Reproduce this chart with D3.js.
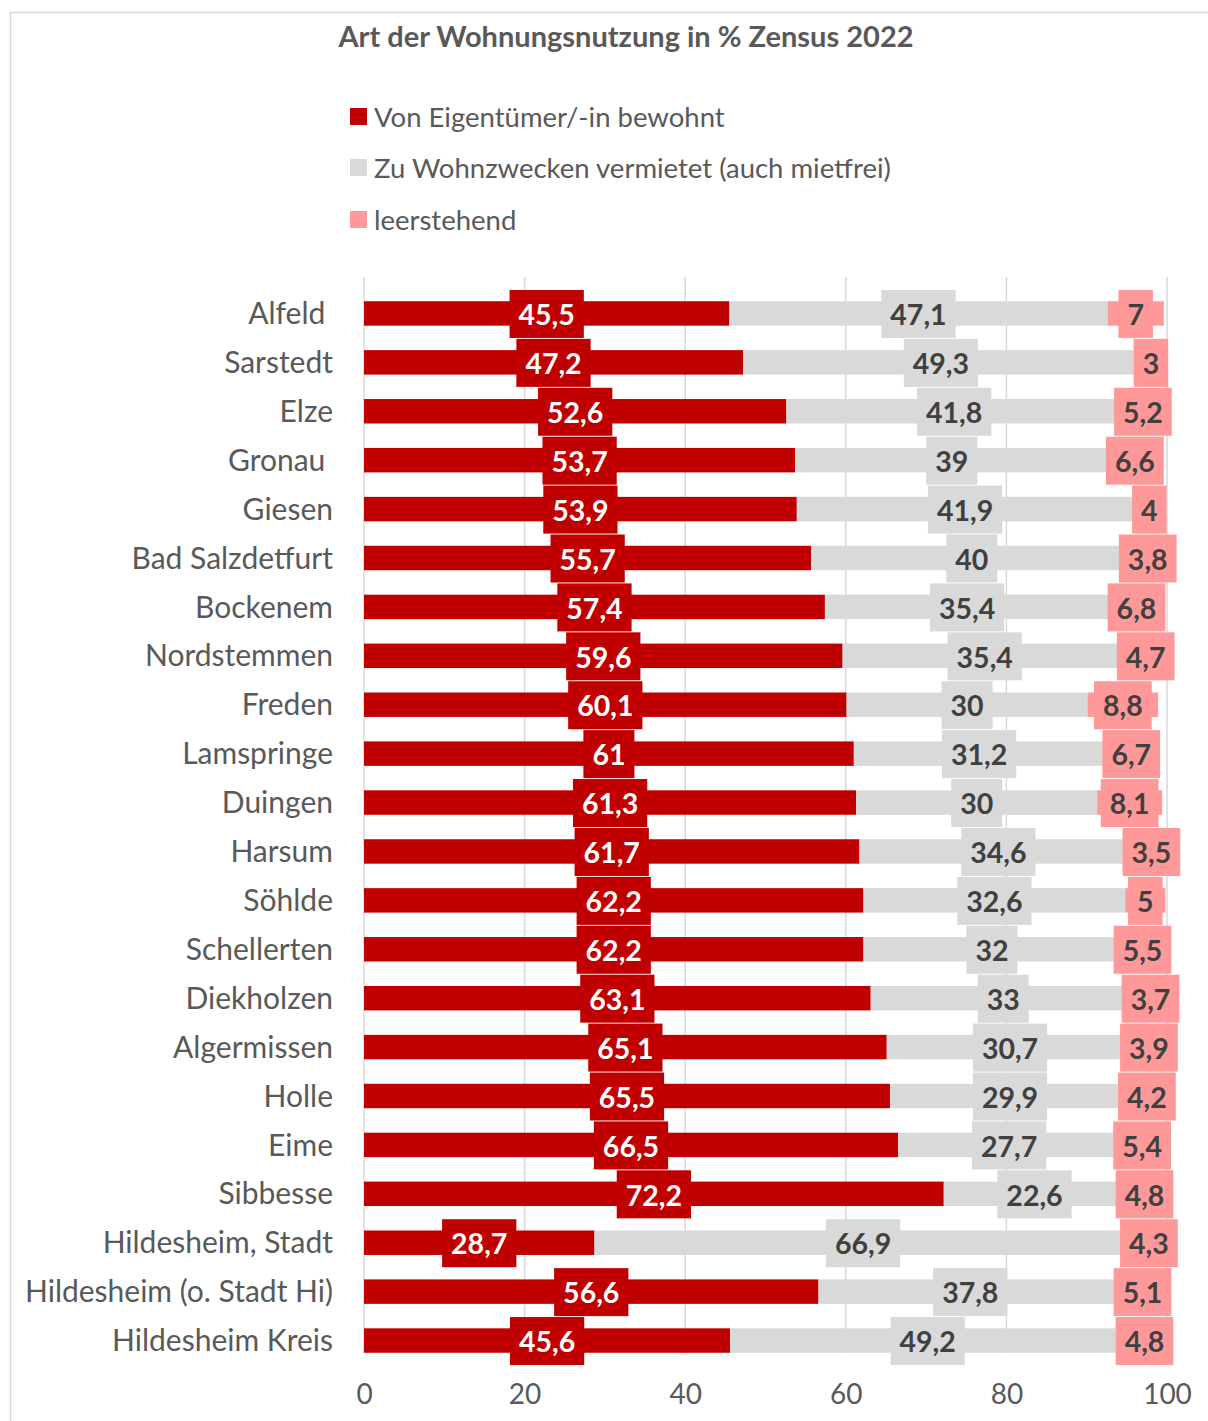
<!DOCTYPE html>
<html><head><meta charset="utf-8">
<script src="https://cdn.jsdelivr.net/npm/d3@7"></script>
<style>
html,body{margin:0;padding:0;background:#fff;}
svg text{font-family:Lato,"Open Sans",sans-serif;white-space:pre;}
</style></head>
<body>
<script>
const categories = ["Alfeld ","Sarstedt","Elze","Gronau ","Giesen","Bad Salzdetfurt","Bockenem","Nordstemmen","Freden","Lamspringe","Duingen","Harsum","Söhlde","Schellerten","Diekholzen","Algermissen","Holle","Eime","Sibbesse","Hildesheim, Stadt","Hildesheim (o. Stadt Hi)","Hildesheim Kreis"];
const owner  = [45.5,47.2,52.6,53.7,53.9,55.7,57.4,59.6,60.1,61,61.3,61.7,62.2,62.2,63.1,65.1,65.5,66.5,72.2,28.7,56.6,45.6];
const rented = [47.1,49.3,41.8,39,41.9,40,35.4,35.4,30,31.2,30,34.6,32.6,32,33,30.7,29.9,27.7,22.6,66.9,37.8,49.2];
const vacant = [7,3,5.2,6.6,4,3.8,6.8,4.7,8.8,6.7,8.1,3.5,5,5.5,3.7,3.9,4.2,5.4,4.8,4.3,5.1,4.8];
const seriesNames = ["Von Eigentümer/-in bewohnt","Zu Wohnzwecken vermietet (auch mietfrei)","leerstehend"];
const seriesColors = ["#C00000","#D9D9D9","#FF9999"];
const labelColors = ["#FFFFFF","#404040","#404040"];
const xTicks = [0,20,40,60,80,100];
const title = "Art der Wohnungsnutzung in % Zensus 2022";

const W = 1208, H = 1421;
const svg = d3.select("body").append("svg").attr("width",W).attr("height",H);

// outer chart border
svg.append("path").attr("d",`M10.5,${H} L10.5,12.5 L${W},12.5`).attr("fill","none").attr("stroke","#D9D9D9").attr("stroke-width",1.5);

const x = d3.scaleLinear().domain([0,100]).range([364,1167]);
const y = d3.scaleBand().domain(categories).range([289,1365]).paddingInner(0.5).paddingOuter(0.25);
const plotTop = 277, plotBottom = 1353;

// title
svg.append("text").attr("x",626).attr("y",47).attr("text-anchor","middle")
  .attr("font-size",29).attr("font-weight","bold").attr("fill","#595959").text(title);

// legend
const legY = [117,168,220];
seriesNames.forEach((n,i)=>{
  svg.append("rect").attr("x",350).attr("y",legY[i]-9).attr("width",17).attr("height",17).attr("fill",seriesColors[i]);
  svg.append("text").attr("x",374).attr("y",legY[i]+9.5).attr("font-size",27.5).attr("fill","#595959").text(n);
});

// gridlines
svg.append("g").selectAll("line").data(xTicks).join("line")
  .attr("x1",d=>x(d)).attr("x2",d=>x(d)).attr("y1",plotTop).attr("y2",plotBottom)
  .attr("stroke","#D9D9D9").attr("stroke-width",1.5);

// x axis tick labels
const xAxis = d3.axisBottom(x).tickValues(xTicks).tickSize(0).tickPadding(0).tickFormat(d3.format("d"));
const gx = svg.append("g").attr("transform",`translate(0,1384)`).call(xAxis);
gx.select(".domain").remove();
gx.selectAll("text").attr("font-size",28).attr("fill","#595959").attr("font-family","Lato,sans-serif").attr("dy","0.71em");

// y category labels
const yAxis = d3.axisLeft(y).tickSize(0).tickPadding(0);
const gy = svg.append("g").attr("transform",`translate(333,1)`).call(yAxis);
gy.select(".domain").remove();
gy.selectAll("text").attr("font-size",30).attr("fill","#595959").attr("font-family","Lato,sans-serif").style("white-space","pre");

// stacked data
const rows = categories.map((c,i)=>({cat:c, vals:[owner[i],rented[i],vacant[i]]}));
const segs = [];
rows.forEach(r=>{
  let acc=0;
  r.vals.forEach((v,s)=>{ segs.push({cat:r.cat, s, x0:acc, x1:acc+v, v}); acc+=v; });
});

svg.append("g").selectAll("rect").data(segs).join("rect")
  .attr("x",d=>x(d.x0)).attr("width",d=>x(d.x1)-x(d.x0))
  .attr("y",d=>y(d.cat)).attr("height",y.bandwidth())
  .attr("fill",d=>seriesColors[d.s]);

// data labels with background boxes
const fmt = v => String(v).replace(".",",");
const lg = svg.append("g");
segs.forEach(d=>{
  const cx = x((d.x0+d.x1)/2), cy = y(d.cat)+y.bandwidth()/2;
  const g = lg.append("g");
  const r = g.append("rect").attr("fill",seriesColors[d.s]);
  const t = g.append("text").attr("x",cx).attr("y",cy+1.5).attr("dy","0.36em").attr("text-anchor","middle")
    .attr("font-size",28.5).attr("font-weight","bold").attr("fill",labelColors[d.s]).text(fmt(d.v));
  const bw = t.node().getComputedTextLength()+18;
  r.attr("x",cx-bw/2).attr("y",cy-23.5).attr("width",bw).attr("height",48);
});
</script>
</body></html>
